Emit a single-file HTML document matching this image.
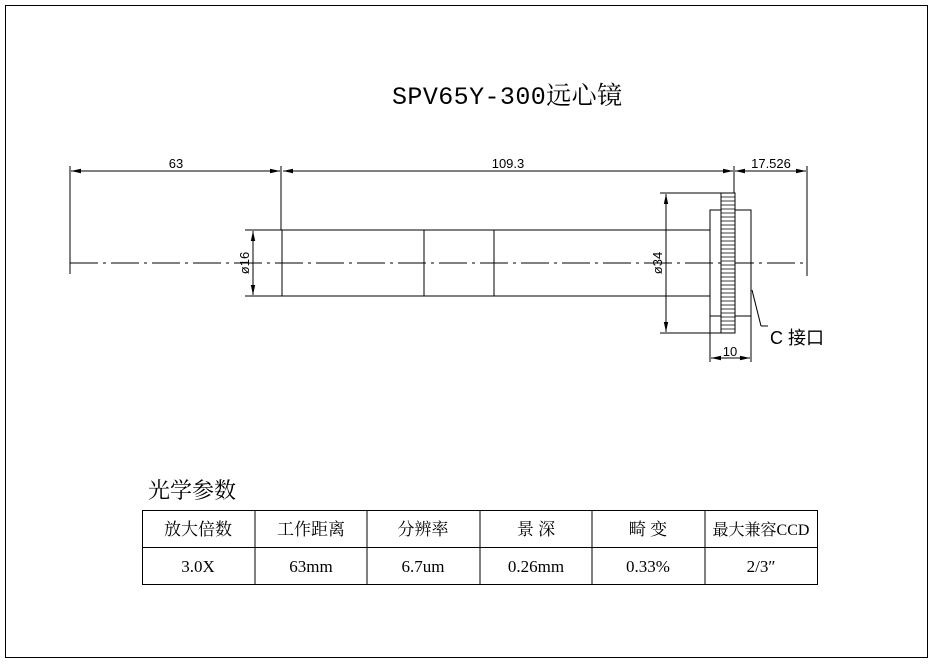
<!DOCTYPE html>
<html><head><meta charset="utf-8"><style>
body{margin:0;background:#fff;width:933px;height:663px;overflow:hidden}
text{font-family:"Liberation Sans","Noto Sans CJK SC",sans-serif;fill:#000}
text.m{font-family:"Liberation Mono","Noto Serif CJK SC",monospace}
text.s{font-family:"Liberation Serif","Noto Serif CJK SC",serif}
</style></head><body>
<svg width="933" height="663" viewBox="0 0 933 663" xmlns="http://www.w3.org/2000/svg">
<defs><marker id="a" markerWidth="10" markerHeight="6" refX="10" refY="3" orient="auto-start-reverse"><path d="M0,0.8L10,3L0,5.2z" fill="#000"/></marker></defs>
<rect x="5.5" y="5.5" width="922" height="652" fill="none" stroke="#000"/>
<text class="m" x="507" y="104" font-size="25" text-anchor="middle" textLength="230">SPV65Y-300远心镜</text>
<g stroke="#000" stroke-width="1" fill="none">
<line x1="70" y1="166" x2="70" y2="274"/>
<line x1="281" y1="166" x2="281" y2="230"/>
<line x1="734" y1="166" x2="734" y2="193"/>
<line x1="807" y1="166" x2="807" y2="276"/>
<line x1="71" y1="171" x2="280" y2="171" marker-start="url(#a)" marker-end="url(#a)"/>
<line x1="283" y1="171" x2="733" y2="171" marker-start="url(#a)" marker-end="url(#a)"/>
<line x1="735" y1="171" x2="806" y2="171" marker-start="url(#a)" marker-end="url(#a)"/>
<line x1="70" y1="263" x2="808" y2="263" stroke-dasharray="28,5,3,5"/>
<rect x="282" y="230" width="428" height="66"/>
<line x1="424" y1="230" x2="424" y2="296"/>
<line x1="494" y1="230" x2="494" y2="296"/>
<line x1="245" y1="230" x2="282" y2="230"/>
<line x1="245" y1="296" x2="282" y2="296"/>
<line x1="253" y1="231" x2="253" y2="295" marker-start="url(#a)" marker-end="url(#a)"/>
<line x1="660" y1="193" x2="721" y2="193"/>
<line x1="660" y1="333" x2="721" y2="333"/>
<line x1="666" y1="194" x2="666" y2="332" marker-start="url(#a)" marker-end="url(#a)"/>
<rect x="710" y="210" width="41" height="106"/>
<rect x="721" y="193" width="14" height="140" fill="#fff"/>
<line x1="710" y1="316" x2="710" y2="362"/>
<line x1="751" y1="316" x2="751" y2="362"/>
<line x1="711" y1="358" x2="750" y2="358" marker-start="url(#a)" marker-end="url(#a)"/>
<line x1="752" y1="290" x2="761" y2="326"/><line x1="761" y1="326" x2="768" y2="326"/>
</g>
<path stroke="#000" stroke-width="0.7" fill="none" d="M721 197h14M721 201h14M721 205h14M721 209h14M721 213h14M721 217h14M721 221h14M721 225h14M721 229h14M721 233h14M721 237h14M721 241h14M721 245h14M721 249h14M721 253h14M721 257h14M721 261h14M721 265h14M721 269h14M721 273h14M721 277h14M721 281h14M721 285h14M721 289h14M721 293h14M721 297h14M721 301h14M721 305h14M721 309h14M721 313h14M721 317h14M721 321h14M721 325h14M721 329h14"/>
<text x="176" y="168" font-size="13" text-anchor="middle">63</text>
<text x="508" y="168" font-size="13" text-anchor="middle">109.3</text>
<text x="771" y="168" font-size="13" text-anchor="middle">17.526</text>
<text x="730" y="356" font-size="13" text-anchor="middle">10</text>
<text transform="translate(249,263) rotate(-90)" font-size="13" text-anchor="middle">ø16</text>
<text transform="translate(662,263) rotate(-90)" font-size="13" text-anchor="middle">ø34</text>
<text x="770" y="344" font-size="18">C 接口</text>
<text class="s" x="148" y="498" font-size="22">光学参数</text>
<g stroke="#000" fill="none">
<rect x="142.5" y="510.5" width="675" height="74"/>
<line x1="142" y1="547.5" x2="818" y2="547.5"/>
<line x1="255" y1="510" x2="255" y2="585"/><line x1="367" y1="510" x2="367" y2="585"/>
<line x1="480" y1="510" x2="480" y2="585"/><line x1="592" y1="510" x2="592" y2="585"/>
<line x1="705" y1="510" x2="705" y2="585"/>
</g>
<g font-size="17" text-anchor="middle">
<text class="s" x="198" y="535">放大倍数</text><text class="s" x="311" y="535">工作距离</text><text class="s" x="423" y="535">分辨率</text>
<text class="s" x="536" y="535">景 深</text><text class="s" x="648" y="535">畸 变</text><text class="s" x="761" y="535" font-size="16">最大兼容CCD</text>
<text class="s" x="198" y="572">3.0X</text><text class="s" x="311" y="572">63mm</text><text class="s" x="423" y="572">6.7um</text>
<text class="s" x="536" y="572">0.26mm</text><text class="s" x="648" y="572">0.33%</text><text class="s" x="761" y="572">2/3″</text>
</g>
</svg>
</body></html>
